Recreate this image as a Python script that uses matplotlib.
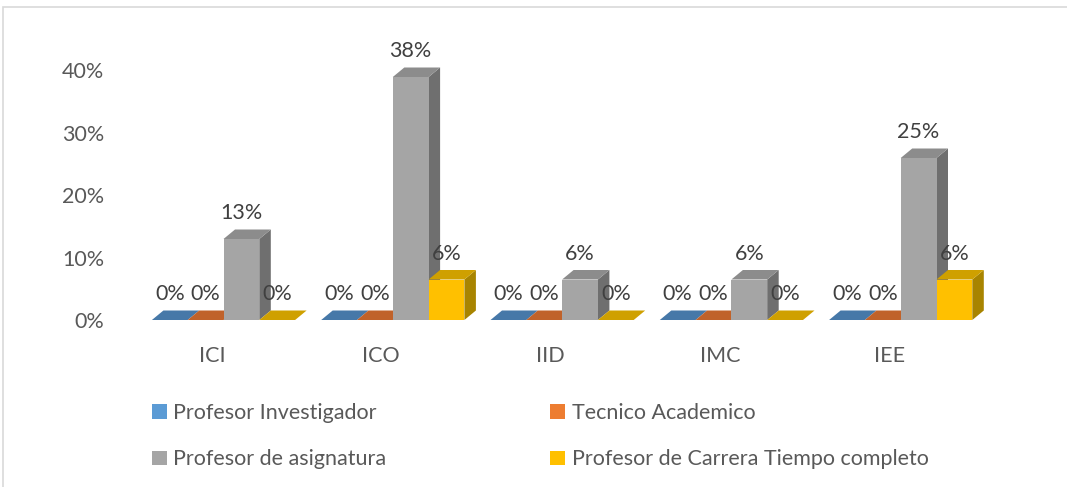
import matplotlib
matplotlib.use("Agg")
import matplotlib.pyplot as plt
from matplotlib.patches import Polygon, Patch, Rectangle
import numpy as np

categories = ["ICI", "ICO", "IID", "IMC", "IEE"]
series_names = ["Profesor Investigador", "Tecnico Academico",
                "Profesor de asignatura", "Profesor de Carrera Tiempo completo"]
prof_investigador = [0.0, 0.0, 0.0, 0.0, 0.0]
tecnico_academico = [0.0, 0.0, 0.0, 0.0, 0.0]
prof_asignatura = [0.125, 0.375, 0.0625, 0.0625, 0.25]
prof_carrera = [0.0, 0.0625, 0.0, 0.0, 0.0625]
series_values = [prof_investigador, tecnico_academico, prof_asignatura, prof_carrera]
yticks = [0.0, 0.1, 0.2, 0.3, 0.4]

front_colors = ["#5b9bd5", "#ed7d31", "#a5a5a5", "#ffc000"]
top_colors = ["#4678a8", "#c0622a", "#8c8c8c", "#cfa000"]
side_colors = ["#3c6890", "#a65424", "#6f6f6f", "#a88400"]

plt.rcParams['font.family'] = ['Lato', 'DejaVu Sans']
txt_color = "#595959"
FS = 15.5

W, H = 1067, 487
fig = plt.figure(figsize=(W / 100, H / 100), dpi=100)

# axes pixel layout
ax_left, ax_right = 120, 1000
base_px = 320
px_per_unit_y = 648
ymax = 0.45
ax_h = ymax * px_per_unit_y
cat_spacing = 169.3
cat0_px = 212
pos = [ax_left / W, (H - base_px) / H, (ax_right - ax_left) / W, ax_h / H]
ax = fig.add_axes(pos)
ax.set_ylim(0, ymax)
x_lo = (ax_left - cat0_px) / cat_spacing
x_hi = (ax_right - cat0_px) / cat_spacing
ax.set_xlim(x_lo, x_hi)
ax.axis("off")

# depth offsets in data units
ddx = 11.5 / cat_spacing
ddy = 9.5 / px_per_unit_y
bw = 35.8 / cat_spacing
group_shift = 11.5 / cat_spacing

x = np.arange(len(categories))
for i in range(len(categories)):
    for s in range(len(series_values)):
        v = series_values[s][i]
        x0 = x[i] + group_shift + (s - 2) * bw
        x1 = x0 + bw
        if v > 0:
            front = Polygon([(x0, 0), (x1, 0), (x1, v), (x0, v)], closed=True,
                            facecolor=front_colors[s], edgecolor="none", zorder=3)
            side = Polygon([(x1, 0), (x1 + ddx, ddy), (x1 + ddx, v + ddy), (x1, v)], closed=True,
                           facecolor=side_colors[s], edgecolor="none", zorder=3)
            ax.add_patch(side)
            ax.add_patch(front)
        top = Polygon([(x0, v), (x1, v), (x1 + ddx, v + ddy), (x0 + ddx, v + ddy)], closed=True,
                      facecolor=top_colors[s], edgecolor="none", zorder=3)
        ax.add_patch(top)
        pct = int(v * 100 + 0.5)
        ax.annotate(f"{pct}%", xy=(x0 + bw / 2, v), xytext=(0, 26),
                    textcoords="offset pixels", ha="center", va="center",
                    fontsize=FS, color="#404040", zorder=5)

# category labels
for i, c in enumerate(categories):
    ax.annotate(c, xy=(x[i], 0), xytext=(0, -36), textcoords="offset pixels",
                ha="center", va="center", fontsize=FS, color=txt_color)

# value axis labels (on the back wall scale)
lab_px_per_unit = 637.5
lab_zero_px = 326
ax2 = fig.add_axes(pos, frameon=False)
lo = (lab_zero_px - base_px) / lab_px_per_unit
ax2.set_ylim(lo, lo + ax_h / lab_px_per_unit)
ax2.set_xlim(0, 1)
ax2.set_xticks([])
ax2.set_yticks(yticks)
ax2.set_yticklabels([f"{int(round(t * 100))}%" for t in yticks])
ax2.tick_params(axis="y", length=0, pad=11.5, labelsize=FS, labelcolor=txt_color)
for lab in ax2.get_yticklabels():
    lab.set_fontfamily(['Lato', 'DejaVu Sans'])
ax2.patch.set_alpha(0)

# legend
order = [0, 2, 1, 3]
handles = [Patch(facecolor=front_colors[k], edgecolor="none") for k in order]
labels = [series_names[k] for k in order]
leg = fig.legend(handles, labels, ncol=2, loc="upper left",
                 bbox_to_anchor=(152 / W, 1 - 403 / H), frameon=False,
                 fontsize=FS, handlelength=0.68, handleheight=0.68,
                 handletextpad=0.3, columnspacing=7.63, labelspacing=1.23,
                 labelcolor=txt_color, borderpad=0, borderaxespad=0)

# chart border
fig.patches.append(Rectangle((3 / W, -0.1), 1.2, 1 - 7 / H + 0.1, transform=fig.transFigure,
                             facecolor="none", edgecolor="#d9d9d9", linewidth=1.2))

fig.savefig("out.png", dpi=100)
